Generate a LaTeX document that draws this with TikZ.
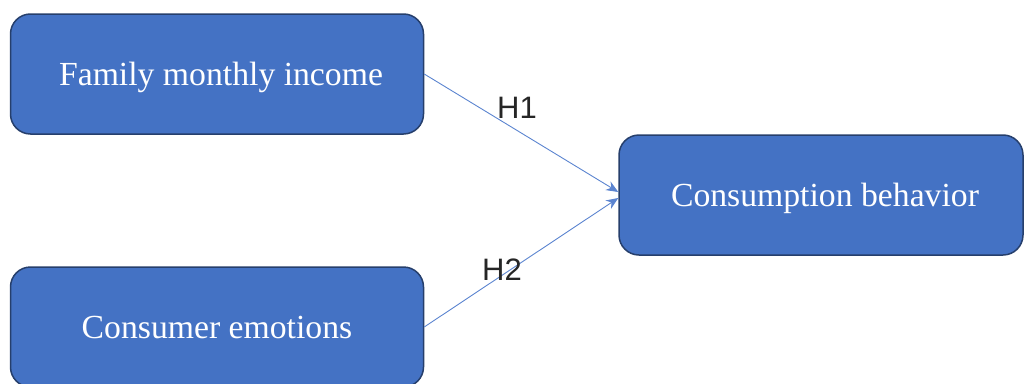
\documentclass[tikz,border=0pt]{standalone}
\usepackage{fontspec}
\setmainfont{Liberation Serif}
\newfontfamily\lblfont{Liberation Sans}
\usetikzlibrary{arrows.meta}
\definecolor{boxfill}{HTML}{4472C4}
\definecolor{boxline}{HTML}{263F6C}
\definecolor{arrowcol}{HTML}{5B84D0}
\definecolor{lbl}{HTML}{262626}
\begin{document}
\begin{tikzpicture}[x=1pt,y=-1pt,
  varbox/.style={draw=boxline,line width=1.5pt,fill=boxfill,rounded corners=20pt,
    minimum width=413pt,minimum height=120pt,inner sep=0pt,text=white,
    text height=23pt,text depth=0pt,
    font=\fontsize{33.7}{38}\selectfont},
  nudge/.style={execute at begin node={\hspace*{8pt}}},
  link/.style={draw=arrowcol,line width=0.9pt,-{Stealth[length=12pt,width=10pt]}},
  hlabel/.style={text=lbl,font=\lblfont\fontsize{31}{34}\selectfont,inner sep=0pt,anchor=base}]
\useasboundingbox (0,0) rectangle (1024,383);
\node[varbox,nudge] (b1) at (217,74) {Family monthly income};
\node[varbox] (b2) at (217,327) {Consumer emotions};
\node[varbox,nudge,minimum width=404pt] (b3) at (821,195) {Consumption behavior};
\draw[link] (b1.east) -- ([yshift=3pt]b3.west);
\draw[link] (b2.east) -- ([yshift=-3pt]b3.west);
\node[hlabel] (h1) at (517,118) {H1};
\node[hlabel] (h2) at (502,280) {H2};
\end{tikzpicture}
\end{document}
